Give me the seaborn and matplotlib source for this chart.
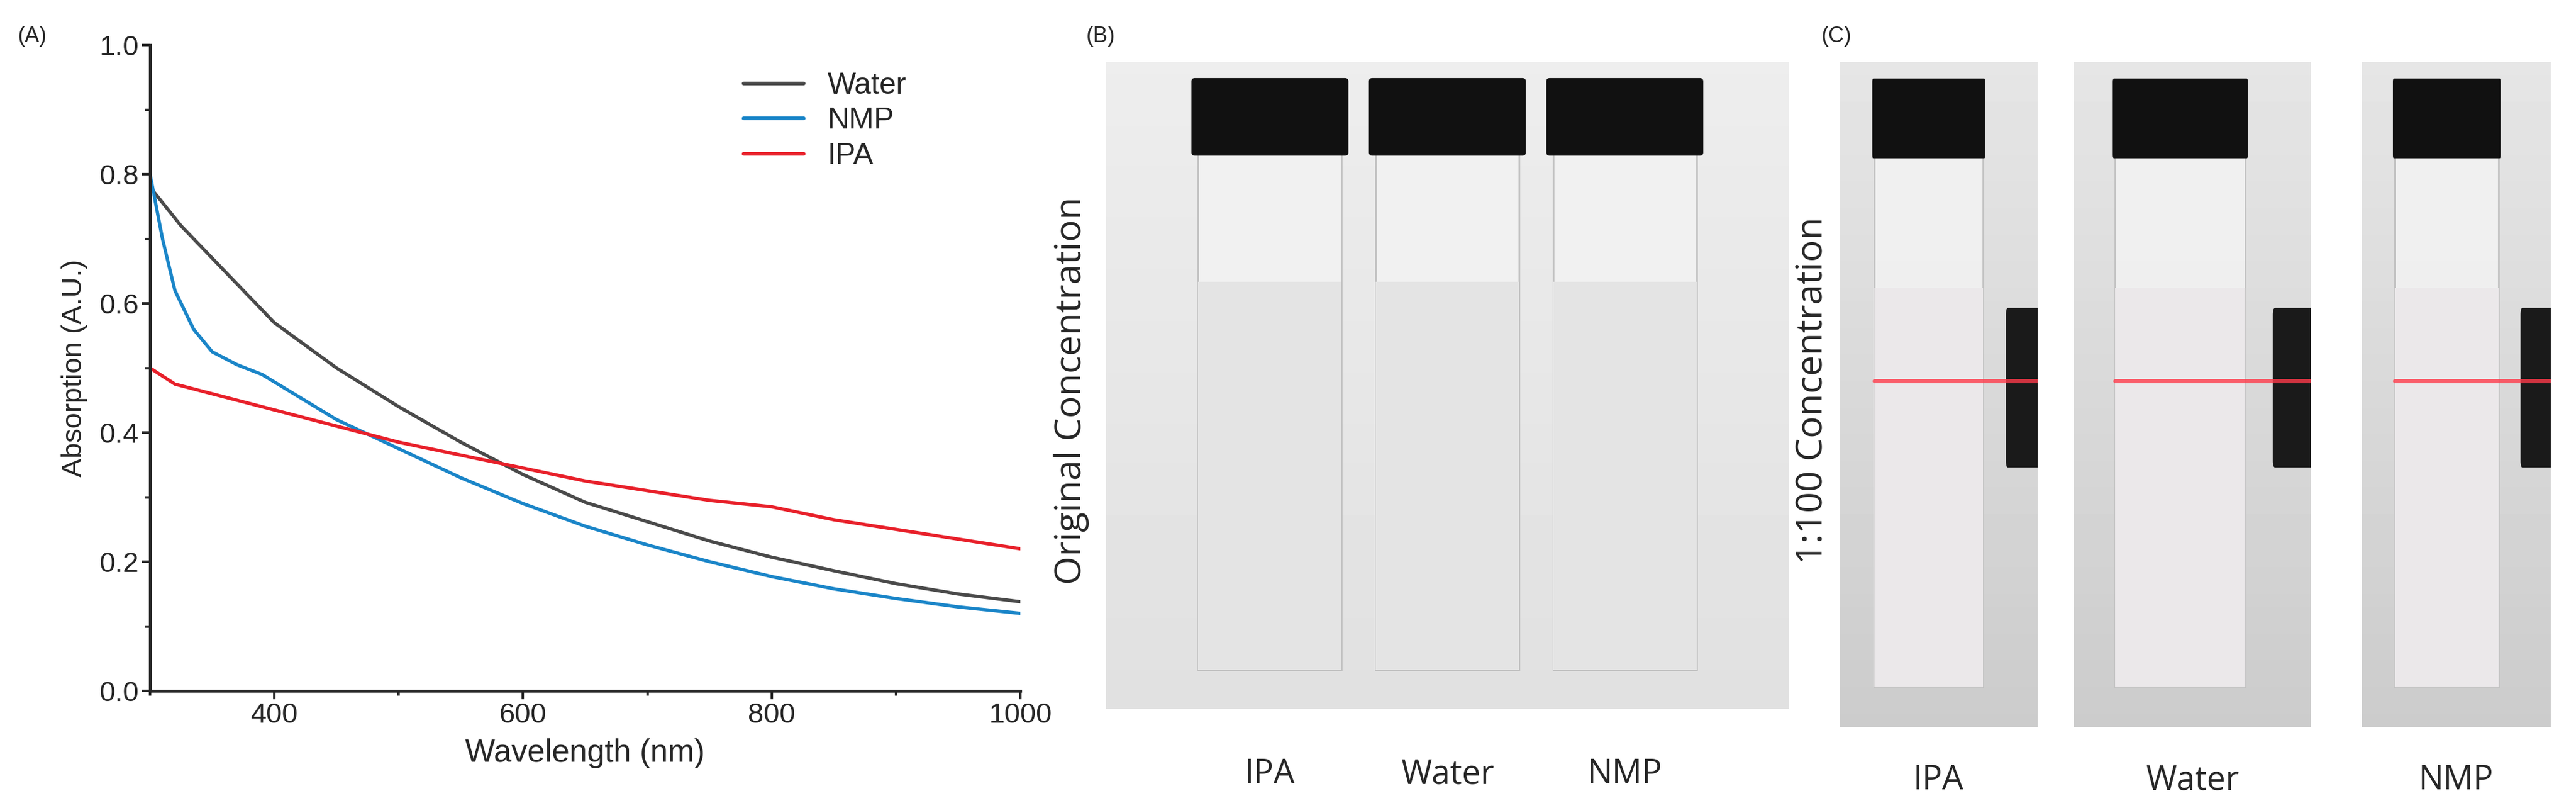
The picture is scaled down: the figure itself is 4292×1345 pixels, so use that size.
import numpy as np
import pandas as pd
import matplotlib
matplotlib.use("Agg")
import matplotlib.pyplot as plt
import seaborn as sns
from matplotlib.patches import Rectangle, FancyBboxPatch

sns.set_theme(style="ticks")
plt.rcParams['font.family'] = ['Liberation Sans', 'DejaVu Sans']

water_wl = [300, 325, 350, 375, 400, 450, 500, 550, 600, 650, 700, 750, 800, 850, 900, 950, 1000]
water_abs = [0.78, 0.72, 0.67, 0.62, 0.57, 0.50, 0.44, 0.385, 0.335, 0.292, 0.262, 0.232, 0.207, 0.186, 0.166, 0.150, 0.138]
nmp_wl = [300, 310, 320, 335, 350, 370, 390, 420, 450, 500, 550, 600, 650, 700, 750, 800, 850, 900, 950, 1000]
nmp_abs = [0.80, 0.70, 0.62, 0.56, 0.525, 0.505, 0.49, 0.455, 0.42, 0.375, 0.33, 0.29, 0.255, 0.226, 0.200, 0.177, 0.158, 0.143, 0.130, 0.120]
ipa_wl = [300, 320, 350, 400, 450, 500, 550, 600, 650, 700, 750, 800, 850, 900, 950, 1000]
ipa_abs = [0.50, 0.475, 0.46, 0.435, 0.41, 0.385, 0.365, 0.345, 0.325, 0.31, 0.295, 0.285, 0.265, 0.25, 0.235, 0.22]

df = pd.concat([
    pd.DataFrame({"wl": water_wl, "abs": water_abs, "solvent": "Water"}),
    pd.DataFrame({"wl": nmp_wl, "abs": nmp_abs, "solvent": "NMP"}),
    pd.DataFrame({"wl": ipa_wl, "abs": ipa_abs, "solvent": "IPA"}),
])
palette = {"Water": "#4a4a4a", "NMP": "#1a85c8", "IPA": "#e8202a"}

W, H = 4292, 1345
fig = plt.figure(figsize=(W / 100, H / 100), dpi=100)

ax = fig.add_axes([250 / W, 195 / H, 1450 / W, 1075 / H])
sns.lineplot(data=df, x="wl", y="abs", hue="solvent", palette=palette, ax=ax, linewidth=4)
ax.set_xlim(300, 1000)
ax.set_ylim(0, 1.0)
ax.set_xticks([400, 600, 800, 1000])
ax.set_xticks([300, 500, 700, 900], minor=True)
ax.set_yticks([0, 0.2, 0.4, 0.6, 0.8, 1.0])
ax.set_yticks([0.1, 0.3, 0.5, 0.7, 0.9], minor=True)
ax.tick_params(labelsize=34, width=3, length=10, direction="out")
ax.tick_params(which="minor", width=3, length=6)
for s in ["top", "right"]:
    ax.spines[s].set_visible(False)
for s in ["left", "bottom"]:
    ax.spines[s].set_linewidth(3.5)
ax.set_xlabel("Wavelength (nm)", fontsize=38, labelpad=12)
ax.set_ylabel("Absorption (A.U.)", fontsize=34, labelpad=14)
leg = ax.legend(title=None, frameon=False, fontsize=36, loc="upper right",
                bbox_to_anchor=(0.90, 1.0), handlelength=2.0, labelspacing=0.25)
for l in leg.get_lines():
    l.set_linewidth(4.5)
fig.text(30 / W, 1 - 60 / H, "(A)", fontsize=26, va="center")

def draw_vial(a, cx, liquid_color, laser=False):
    bw = 0.21 if not laser else 0.55
    a.add_patch(Rectangle((cx - bw / 2, 0.06), bw, 0.80, facecolor="#f2f2f2",
                          edgecolor="#bdbdbd", lw=2, alpha=0.9))
    a.add_patch(Rectangle((cx - bw / 2, 0.06), bw, 0.60, facecolor=liquid_color,
                          edgecolor="none"))
    a.add_patch(FancyBboxPatch((cx - bw / 2 - 0.005, 0.86), bw + 0.01, 0.11,
                               boxstyle="round,pad=0.005", facecolor="#111111", edgecolor="none"))
    if laser:
        a.plot([cx - bw / 2, 1.0], [0.52, 0.52], color="#ff3a4a", lw=5, alpha=0.8)
        a.add_patch(FancyBboxPatch((0.85, 0.40), 0.3, 0.22, boxstyle="round,pad=0.01",
                                   facecolor="#1a1a1a", edgecolor="none", clip_on=True))

# Panel B
axb = fig.add_axes([1843 / W, 165 / H, 1137 / W, 1077 / H])
axb.imshow(np.linspace(0.93, 0.88, 50)[:, None] * np.ones((1, 10)), cmap="gray",
           vmin=0, vmax=1, extent=[0, 1, 0, 1], aspect="auto")
for cx in [0.24, 0.5, 0.76]:
    draw_vial(axb, cx, "#e4e4e4")
axb.set_xlim(0, 1); axb.set_ylim(0, 1); axb.axis("off")
for name, cx in zip(["IPA", "Water", "NMP"], [0.24, 0.5, 0.76]):
    fig.text((1843 + cx * 1137) / W, 1 - 1290 / H, name, fontsize=40, ha="center", va="center",
             family=["Open Sans", "DejaVu Sans"])
fig.text(1785 / W, 1 - 650 / H, "Original Concentration", fontsize=44, rotation=90,
         ha="center", va="center", family=["Open Sans", "DejaVu Sans"])
fig.text(1810 / W, 1 - 60 / H, "(B)", fontsize=26, va="center")

# Panel C
c_pos = [(3065, 330), (3455, 395), (3935, 315)]
for (x0, w), name in zip(c_pos, ["IPA", "Water", "NMP"]):
    a = fig.add_axes([x0 / W, 135 / H, w / W, 1107 / H])
    a.imshow(np.linspace(0.90, 0.80, 50)[:, None] * np.ones((1, 10)), cmap="gray",
             vmin=0, vmax=1, extent=[0, 1, 0, 1], aspect="auto")
    draw_vial(a, 0.45, "#ebe8ea", laser=True)
    a.set_xlim(0, 1); a.set_ylim(0, 1); a.axis("off")
    fig.text((x0 + w / 2) / W, 1 - 1300 / H, name, fontsize=40, ha="center", va="center",
             family=["Open Sans", "DejaVu Sans"])
fig.text(3020 / W, 1 - 650 / H, "1:100 Concentration", fontsize=44, rotation=90,
         ha="center", va="center", family=["Open Sans", "DejaVu Sans"])
fig.text(3035 / W, 1 - 60 / H, "(C)", fontsize=26, va="center")

fig.savefig("out.png", dpi=100, facecolor="white")
